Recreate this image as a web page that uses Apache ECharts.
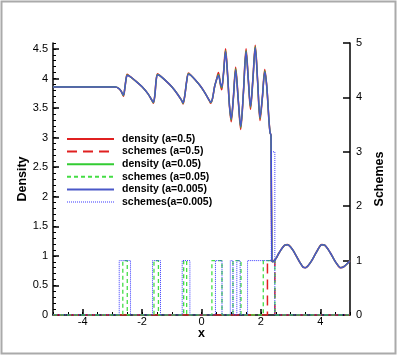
<!DOCTYPE html>
<html>
<head>
<meta charset="utf-8">
<script src="https://cdn.jsdelivr.net/npm/echarts@6/dist/echarts.min.js"></script>
<style>
  html, body { margin: 0; padding: 0; background: #fff; }
  #chart { width: 399px; height: 355px; }
</style>
</head>
<body>
<div id="chart"></div>
<script>
const xs = [-5, -2.9, -2.78, -2.7, -2.63, -2.58, -2.54, -2.5, -2.4, -2.2, -2.0, -1.8, -1.68, -1.62, -1.57,
  -1.53, -1.48, -1.38, -1.2, -1.0, -0.8, -0.66, -0.62, -0.56, -0.5, -0.44, -0.35, -0.2, -0.05, 0.1,
  0.25, 0.31, 0.37, 0.44, 0.5, 0.57, 0.64, 0.68, 0.74, 0.81, 0.88, 0.94, 1.0, 1.07, 1.15,
  1.24, 1.32, 1.41, 1.5, 1.58, 1.65, 1.73, 1.81, 1.89, 1.97, 2.05, 2.13, 2.2, 2.27, 2.31,
  2.34, 2.37, 2.4, 2.5, 2.6, 2.7, 2.8, 2.9, 3.0, 3.1, 3.2, 3.3, 3.42, 3.5, 3.6,
  3.7, 3.8, 3.9, 4.05, 4.15, 4.25, 4.35, 4.45, 4.55, 4.68, 4.8, 4.95, 5.0]

// density, a=0.5
const densityA05 = [3.857, 3.857, 3.83, 3.78, 3.7, 3.84, 3.99, 4.07, 4.03, 3.95, 3.86, 3.74, 3.64, 3.58, 3.72,
  3.95, 4.08, 4.04, 3.96, 3.86, 3.73, 3.62, 3.57, 3.72, 3.95, 4.09, 4.05, 3.97, 3.88, 3.77,
  3.64, 3.58, 3.66, 3.86, 3.97, 4.1, 3.89, 3.81, 4.08, 4.5, 4.05, 3.55, 3.27, 3.65, 4.19,
  3.62, 3.14, 3.75, 4.5, 3.95, 3.48, 3.98, 4.56, 3.95, 3.29, 3.68, 4.15, 3.85, 3.3, 3.08,
  3.04, 0.92, 0.9, 0.95, 1.04, 1.12, 1.18, 1.19, 1.15, 1.08, 0.99, 0.9, 0.81, 0.8, 0.84,
  0.91, 1.0, 1.09, 1.19, 1.18, 1.12, 1.04, 0.95, 0.87, 0.8, 0.82, 0.89, 0.92]

// density, a=0.05
const densityA005 = [3.857, 3.857, 3.83, 3.78, 3.71, 3.84, 3.99, 4.06, 4.03, 3.95, 3.86, 3.74, 3.64, 3.59, 3.72,
  3.95, 4.07, 4.04, 3.96, 3.86, 3.73, 3.62, 3.58, 3.72, 3.95, 4.08, 4.05, 3.97, 3.88, 3.77,
  3.64, 3.59, 3.66, 3.86, 3.97, 4.07, 3.9, 3.84, 4.08, 4.47, 4.05, 3.55, 3.3, 3.65, 4.16,
  3.62, 3.17, 3.75, 4.47, 3.95, 3.51, 3.98, 4.54, 3.95, 3.32, 3.68, 4.13, 3.85, 3.3, 3.08,
  3.04, 0.92, 0.9, 0.95, 1.04, 1.12, 1.18, 1.19, 1.15, 1.08, 0.99, 0.9, 0.81, 0.8, 0.84,
  0.91, 1.0, 1.09, 1.19, 1.18, 1.12, 1.04, 0.95, 0.87, 0.8, 0.82, 0.89, 0.92]

// density, a=0.005
const densityA0005 = [3.857, 3.857, 3.83, 3.78, 3.72, 3.84, 3.99, 4.05, 4.03, 3.95, 3.86, 3.74, 3.64, 3.6, 3.72,
  3.95, 4.06, 4.04, 3.96, 3.86, 3.73, 3.62, 3.59, 3.72, 3.95, 4.07, 4.05, 3.97, 3.88, 3.77,
  3.64, 3.6, 3.66, 3.86, 3.97, 4.05, 3.91, 3.86, 4.08, 4.45, 4.05, 3.55, 3.32, 3.65, 4.14,
  3.62, 3.19, 3.75, 4.45, 3.95, 3.53, 3.98, 4.52, 3.95, 3.34, 3.68, 4.11, 3.85, 3.3, 3.08,
  3.04, 0.92, 0.9, 0.95, 1.04, 1.12, 1.18, 1.19, 1.15, 1.08, 0.99, 0.9, 0.81, 0.8, 0.84,
  0.91, 1.0, 1.09, 1.19, 1.18, 1.12, 1.04, 0.95, 0.87, 0.8, 0.82, 0.89, 0.92]

// scheme switches: [x where it switches, new value]
const schemesA05 = [[-5, 0], [2.22, 1], [2.47, 0], [5, 0]]
const schemesA005 = [[-5, 0], [-2.65, 1], [-2.5, 0], [-1.6, 1], [-1.45, 0], [-0.6, 1], [-0.5, 0],
  [0.35, 1], [0.69, 0], [1.06, 1], [1.33, 0], [2.08, 1], [2.47, 0], [5, 0]]
const schemesA0005 = [[-5, 0], [-2.77, 1], [-2.39, 0], [-1.65, 1], [-1.38, 0], [-0.65, 1], [-0.39, 0],
  [0.47, 1], [0.69, 0], [0.97, 1], [1.06, 0], [1.19, 1], [1.3, 0], [1.55, 1], [2.35, 3], [2.47, 0], [5, 0]]

const xTicks = [-4, -2, 0, 2, 4]
const densityTicks = [0, 0.5, 1, 1.5, 2, 2.5, 3, 3.5, 4, 4.5]

const FONT = 'Liberation Sans'

function pairs(ys) {
  return xs.map((x, i) => [x, ys[i]])
}

const chart = echarts.init(document.getElementById('chart'))

const minorX = {
  type: 'value', position: 'bottom', min: -5, max: 5, interval: 0.5,
  axisLine: { show: false, onZero: false }, axisLabel: { show: false }, splitLine: { show: false },
  axisTick: { inside: true, length: 3, lineStyle: { color: '#000', width: 1 } }
}
const minorY = {
  type: 'value', position: 'left', min: 0, max: 4.6, interval: 0.1,
  axisLine: { show: false, onZero: false }, axisLabel: { show: false }, splitLine: { show: false },
  axisTick: { inside: true, length: 3, lineStyle: { color: '#000', width: 1 } }
}
const nameFont = { fontFamily: FONT, fontSize: 12.5, fontWeight: 'bold', color: '#000' }

chart.setOption({
  animation: false,
  backgroundColor: '#fff',
  textStyle: { fontFamily: FONT },
  grid: { left: 53, right: 49, top: 43, bottom: 40, containLabel: false },
  graphic: [{
    type: 'rect',
    shape: { x: 1.5, y: 1.5, width: 394, height: 352 },
    style: { fill: 'none', stroke: '#aaa', lineWidth: 2 }
  }],
  legend: {
    orient: 'vertical',
    left: 61,
    top: 128,
    itemWidth: 47,
    itemHeight: 12,
    itemGap: 0.6,
    itemStyle: { opacity: 0 },
    data: [
      'density (a=0.5)', 'schemes (a=0.5)', 'density (a=0.05)', 'schemes (a=0.05)', 'density (a=0.005)',
      { name: 'schemes(a=0.005)', lineStyle: { color: '#3b3bff', width: 1.2 } }
    ],
    textStyle: { fontFamily: FONT, fontSize: 10.5, fontWeight: 'bold', color: '#000', lineHeight: 12, padding: [0, 0, 0, 3] }
  },
  xAxis: [{
    type: 'value', min: -5, max: 5,
    name: 'x', nameLocation: 'middle', nameGap: 12.5, nameMoveOverlap: false,
    nameTextStyle: nameFont,
    axisLine: { onZero: false, lineStyle: { color: '#000', width: 1.5 } },
    axisTick: { inside: true, length: 6, customValues: xTicks, lineStyle: { color: '#000', width: 1.5 } },
    axisLabel: { customValues: xTicks, margin: 1, fontSize: 11, color: '#000', fontFamily: FONT },
    splitLine: { show: false }
  }, minorX],
  yAxis: [{
    type: 'value', position: 'left', min: 0, max: 4.6,
    name: 'Density', nameLocation: 'middle', nameGap: 23.5, nameMoveOverlap: false,
    nameTextStyle: nameFont,
    axisLine: { show: true, onZero: false, lineStyle: { color: '#000', width: 1.5 } },
    axisTick: { inside: true, length: 6, customValues: densityTicks, lineStyle: { color: '#000', width: 1.5 } },
    axisLabel: { customValues: densityTicks, margin: 5, fontSize: 11, color: '#000', fontFamily: FONT },
    splitLine: { show: false }
  }, {
    type: 'value', position: 'right', min: 0, max: 5, interval: 1,
    name: 'Schemes', nameLocation: 'middle', nameGap: 23, nameRotate: 90, nameMoveOverlap: false,
    nameTextStyle: nameFont,
    axisLine: { show: true, onZero: false, lineStyle: { color: '#000', width: 1.5 } },
    axisTick: { inside: true, length: 7, lineStyle: { color: '#000', width: 1.5 } },
    axisLabel: { margin: 6, fontSize: 11, color: '#000', fontFamily: FONT },
    splitLine: { show: false }
  }, minorY],
  series: [{
    name: 'density (a=0.5)', type: 'line', data: pairs(densityA05),
    symbol: 'none', smooth: 0.3, lineStyle: { color: '#e02020', width: 1.6 }, itemStyle: { color: '#e02020' }
  }, {
    name: 'schemes (a=0.5)', type: 'line', yAxisIndex: 1, data: schemesA05, step: 'end',
    symbol: 'none', lineStyle: { color: '#e02020', width: 1.5, type: [10, 6] }, itemStyle: { color: '#e02020' }
  }, {
    name: 'density (a=0.05)', type: 'line', data: pairs(densityA005),
    symbol: 'none', smooth: 0.3, lineStyle: { color: '#33cc33', width: 1.3 }, itemStyle: { color: '#33cc33' }
  }, {
    name: 'schemes (a=0.05)', type: 'line', yAxisIndex: 1, data: schemesA005, step: 'end',
    symbol: 'none', lineStyle: { color: '#44dd44', width: 1.3, type: [4, 3] }, itemStyle: { color: '#44dd44' }
  }, {
    name: 'density (a=0.005)', type: 'line', data: pairs(densityA0005),
    symbol: 'none', smooth: 0.3, lineStyle: { color: '#4a58c8', width: 1.5 }, itemStyle: { color: '#4a58c8' }
  }, {
    name: 'schemes(a=0.005)', type: 'line', yAxisIndex: 1, data: schemesA0005, step: 'end',
    symbol: 'none', lineStyle: { color: '#3b3bff', width: 1, type: [1, 1] }, itemStyle: { color: '#3b3bff' }
  }]
})
</script>
</body>
</html>
